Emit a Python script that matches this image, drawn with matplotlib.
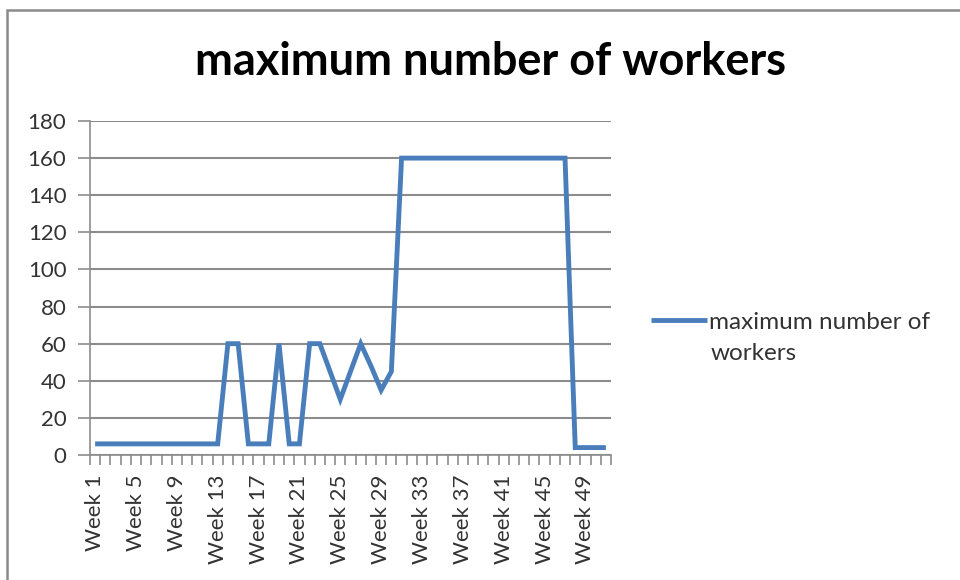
import numpy as np
import matplotlib
matplotlib.use('Agg')
from matplotlib import pyplot as plt
from matplotlib.patches import Rectangle

plt.rcParams['font.family'] = ['Lato', 'DejaVu Sans']

# data
weeks = ['Week %d' % i for i in range(1, 52)]
workers = [6, 6, 6, 6, 6, 6, 6, 6, 6, 6, 6, 6, 6,
           60, 60, 6, 6, 6, 60, 6, 6, 60, 60, 45, 30, 45, 60, 48, 35, 45,
           160, 160, 160, 160, 160, 160, 160, 160, 160, 160, 160, 160,
           160, 160, 160, 160, 160,
           4, 4, 4, 4]
series_name = 'maximum number of workers'
yticks = [0, 20, 40, 60, 80, 100, 120, 140, 160, 180]

grid_col = '#8c8c8c'
text_col = '#333333'
line_col = '#4a7ebb'

fig = plt.figure(figsize=(9.6, 5.8), dpi=100)
ax = fig.add_axes([90/960, 1-455/580, (611-90)/960, (455-121)/580])

x = np.arange(len(weeks))
line, = ax.plot(x, workers, color=line_col, lw=3.5,
                solid_joinstyle='miter', solid_capstyle='butt')

ax.set_xlim(-0.5, len(weeks) - 0.5)
ax.set_ylim(0, 180)
ax.set_yticks(yticks)
ax.set_yticklabels([str(v) for v in yticks])
ax.yaxis.grid(True, color=grid_col, lw=1.5)
ax.set_axisbelow(True)

# category labels every 4 weeks, tick marks at category boundaries
ax.set_xticks(x[::4])
ax.set_xticklabels(weeks[::4], rotation=90)
ax.set_xticks(np.arange(-0.5, len(weeks)), minor=True)
ax.tick_params(axis='x', which='major', length=0, pad=14, labelsize=16, colors=text_col)
ax.tick_params(axis='x', which='minor', length=7, width=1.2, color=grid_col)
ax.tick_params(axis='y', length=9, width=1.2, color=grid_col, labelsize=16,
               labelcolor=text_col, pad=8)

for s in ['top', 'right']:
    ax.spines[s].set_visible(False)
for s in ['left', 'bottom']:
    ax.spines[s].set_color(grid_col)
    ax.spines[s].set_linewidth(1.2)

fig.text(491/960, 1-62/580, series_name, ha='center', va='center',
         fontsize=32.5, fontweight='bold', color='black')

leg = ax.legend([line], ['maximum number of'], loc='center left',
                bbox_to_anchor=(651/960, 1-322/580), bbox_transform=fig.transFigure,
                frameon=False, fontsize=17.5, handlelength=2.3, handletextpad=0.1,
                borderpad=0, borderaxespad=0, labelcolor=text_col)
fig.text(711/960, 1-354/580, 'workers', ha='left', va='center', fontsize=17.5,
         color=text_col)

# chart area border
fig.patches.append(Rectangle((7/960, -0.05), 1.2, 1-10/580 + 0.05,
                             transform=fig.transFigure, fill=False,
                             edgecolor='#8a8a8a', lw=1.8))

fig.savefig('out.png', dpi=100)
